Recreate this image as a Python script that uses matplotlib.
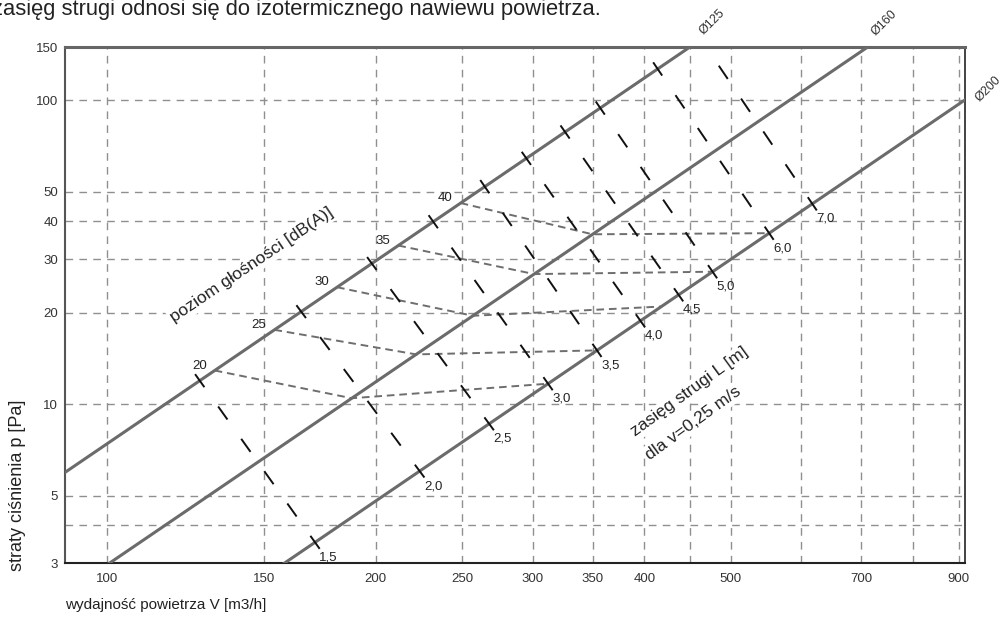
import numpy as np
import matplotlib
matplotlib.use('Agg')
import matplotlib.pyplot as plt

plt.rcParams['font.family'] = ['Liberation Sans', 'DejaVu Sans']
plt.rcParams['lines.scale_dashes'] = False

# diameter lines: pressure loss [Pa] at 100 m3/h (p grows with V^2)
diam_labels = ['Ø125', 'Ø160', 'Ø200']
p_at_100 = [7.41, 2.96, 1.20]

# throw L [m] lines: flow where each one crosses Ø125 and Ø200
throw_labels = ['1,5', '2,0', '2,5', '3,0', '3,5', '4,0', '4,5', '5,0', '6,0', '7,0']
throw_v125 = [127, 165, 198, 232, 265, 295, 326, 357, 414, 463]
throw_v200 = [171, 224, 268, 312, 354, 396, 437, 477, 552, 617]

# sound level lines: flow at the Ø125, Ø160, Ø200 corners
db_labels = ['20', '25', '30', '35', '40']
db_v125 = [132, 154, 181, 212, 249]
db_v160 = [188, 222, 257, 301, 350]
db_v200 = [312, 354, 418, 477, 552]

x_ticks = [100, 150, 200, 250, 300, 350, 400, 450, 500, 600, 700, 800, 900]
x_ticklabels = ['100', '150', '200', '250', '300', '350', '400', '', '500', '', '700', '', '900']
y_ticks = [3, 4, 5, 10, 20, 30, 40, 50, 100, 150]
y_ticklabels = ['3', '', '5', '10', '20', '30', '40', '50', '100', '150']


def pres(i, v):
    return p_at_100[i] * (np.asarray(v, dtype=float) / 100.0) ** 2


fig = plt.figure(figsize=(10.05, 6.26), dpi=100)
ax = fig.add_axes([65 / 1005, 63 / 626, 900 / 1005, 516 / 626])
ax.set_xscale('log')
ax.set_yscale('log')
ax.set_xlim(89.7, 915)
ax.set_ylim(3, 150)

ax.set_xticks(x_ticks)
ax.set_xticklabels(x_ticklabels)
ax.set_yticks(y_ticks)
ax.set_yticklabels(y_ticklabels)
ax.xaxis.set_minor_locator(matplotlib.ticker.NullLocator())
ax.yaxis.set_minor_locator(matplotlib.ticker.NullLocator())
ax.tick_params(length=0, labelsize=9.5, labelcolor='#333333')
ax.tick_params(axis='x', pad=7)
ax.tick_params(axis='y', pad=5)
ax.grid(True, color='#8f8f8f', lw=1, linestyle=(0, (5.5, 4.5)), zorder=0)
ax.set_axisbelow(True)

ax.spines['left'].set_color('#555555')
ax.spines['left'].set_linewidth(1.5)
ax.spines['top'].set_color('#666666')
ax.spines['top'].set_linewidth(2.2)
ax.spines['bottom'].set_color('#222222')
ax.spines['bottom'].set_linewidth(1.5)
ax.spines['right'].set_color('#222222')
ax.spines['right'].set_linewidth(1.2)

# diameter lines
vv = np.geomspace(80, 1000, 50)
for i, lab in enumerate(diam_labels):
    ax.plot(vv, pres(i, vv), color='#6b6b6b', lw=2.2, zorder=4)

# diameter labels at the point where each line leaves the plot
v_exit = [min(915, 100 * np.sqrt(150 / p)) for p in p_at_100]
lab_off = [(16, 18), (12, 17), (17, 8)]
for i, lab in enumerate(diam_labels):
    ax.annotate(lab, (v_exit[i], float(pres(i, v_exit[i]))), xytext=lab_off[i],
                textcoords='offset points', rotation=45, ha='center', va='center',
                fontsize=9, color='#333333', annotation_clip=False)

# sound level lines
for j, lab in enumerate(db_labels):
    xs = [db_v125[j], db_v160[j], db_v200[j]]
    ys = [float(pres(0, db_v125[j])), float(pres(1, db_v160[j])), float(pres(2, db_v200[j]))]
    ax.plot(xs, ys, color='#6e6e6e', lw=1.4, linestyle=(0, (5.5, 3.5)), zorder=3)
    ax.annotate(lab, (xs[0], ys[0]), xytext=(-11, 3.5), textcoords='offset points',
                ha='center', va='center', fontsize=9.5, color='#222222')

# throw lines: long dashes with a dash centred on both end crossings
fig.canvas.draw()
to_px = ax.transData
from_px = ax.transData.inverted()
on_px = 16.0
for j, lab in enumerate(throw_labels):
    a = to_px.transform((throw_v125[j], float(pres(0, throw_v125[j]))))
    b = to_px.transform((throw_v200[j], float(pres(2, throw_v200[j]))))
    d = b - a
    length = np.hypot(*d)
    u = d / length
    a2 = a - u * on_px / 2
    b2 = b + u * on_px / 2
    total = length + on_px
    n = max(2, int(round((total + 23) / 39.0)))
    off_px = (total - n * on_px) / (n - 1)
    pa = from_px.transform(a2)
    pb = from_px.transform(b2)
    ax.plot([pa[0], pb[0]], [pa[1], pb[1]], color='#111111', lw=1.4,
            linestyle=(0, (on_px * 0.72, off_px * 0.72)), solid_capstyle='butt',
            dash_capstyle='butt', zorder=5)
    ax.annotate(lab, (throw_v200[j], float(pres(2, throw_v200[j]))), xytext=(3, -6.5),
                textcoords='offset points', ha='left', va='top', fontsize=9.5, color='#222222')

# rotated labels inside the plot
wbox = dict(facecolor='white', edgecolor='none', pad=1.5)
fig.text(252 / 1005, 1 - 265 / 626, 'poziom głośności [dB(A)]', rotation=34, ha='center',
         va='center', fontsize=12.5, color='#222222', bbox=wbox, zorder=3)
fig.text(690 / 1005, 1 - 392 / 626, 'zasięg strugi L [m]', rotation=36, ha='center',
         va='center', fontsize=12.5, color='#222222', bbox=wbox, zorder=3)
fig.text(693 / 1005, 1 - 423 / 626, 'dla v=0,25 m/s', rotation=36, ha='center',
         va='center', fontsize=12.5, color='#222222', bbox=wbox, zorder=3)

fig.text(-8 / 1005, 1 - 10 / 626, 'zasięg strugi odnosi się do izotermicznego nawiewu powietrza.',
         ha='left', va='center', fontsize=15.8, color='#222222')
fig.text(18 / 1005, 1 - 485 / 626, 'straty ciśnienia p [Pa]', rotation=90, ha='center',
         va='center', fontsize=13, color='#222222')
fig.text(65 / 1005, 1 - 605 / 626, 'wydajność powietrza V [m3/h]', ha='left',
         va='center', fontsize=11, color='#222222')

fig.savefig('out.png', dpi=100)
